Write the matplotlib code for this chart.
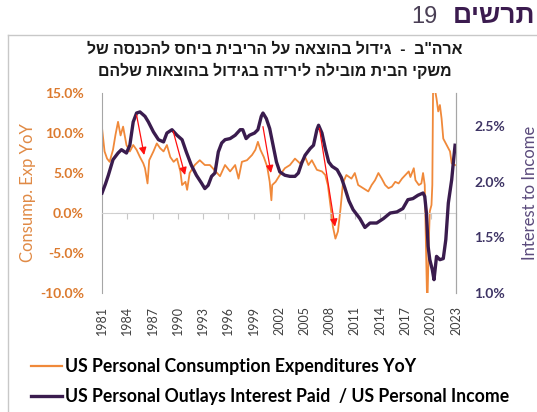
import matplotlib
matplotlib.use("Agg")
import matplotlib.pyplot as plt
from matplotlib.lines import Line2D
from matplotlib.ticker import FuncFormatter

# consumption expenditures YoY (%), left axis
pce_years = [1981.0, 1981.3, 1981.6, 1981.9, 1982.3, 1982.6, 1982.9, 1983.2, 1983.5, 1983.9,
             1984.3, 1984.7, 1985.1, 1985.5, 1985.9, 1986.1, 1986.4, 1986.6, 1987.1, 1987.5,
             1987.9, 1988.3, 1988.7, 1989.1, 1989.5, 1989.9, 1990.3, 1990.5, 1990.9, 1991.1,
             1991.4, 1992.0, 1992.6, 1993.2, 1993.8, 1994.4, 1995.0, 1995.6, 1996.2, 1996.8,
             1997.2, 1997.6, 1998.2, 1998.8, 1999.2, 1999.5, 1999.8, 2000.2, 2000.6, 2000.9,
             2001.1, 2001.2, 2001.6, 2002.1, 2002.7, 2003.3, 2003.9, 2004.5, 2005.1, 2005.5,
             2005.9, 2006.5, 2007.1, 2007.5, 2007.8, 2008.2, 2008.4, 2008.7, 2009.0, 2009.3,
             2009.6, 2010.0, 2010.6, 2011.0, 2011.4, 2012.0, 2012.6, 2013.0, 2013.4, 2013.8,
             2014.2, 2014.6, 2015.0, 2015.4, 2015.8, 2016.2, 2016.6, 2017.0, 2017.4, 2017.6,
             2018.0, 2018.2, 2018.6, 2018.9, 2019.1, 2019.3, 2019.5, 2019.6, 2019.8, 2019.9,
             2020.1, 2020.2, 2020.3, 2020.5, 2020.7, 2020.9, 2021.1, 2021.3, 2021.5, 2021.9,
             2022.3, 2022.5, 2022.9]
pce_yoy = [10.6, 7.7, 6.8, 6.4, 7.9, 9.8, 11.4, 9.7, 10.8, 8.5,
           7.7, 8.5, 7.9, 7.0, 6.2, 5.6, 3.7, 6.6, 7.7, 8.7,
           8.1, 7.7, 8.5, 7.0, 6.4, 6.8, 5.2, 3.5, 3.9, 2.9,
           5.0, 6.0, 6.6, 6.0, 6.0, 5.3, 4.6, 6.0, 5.2, 6.0,
           4.3, 6.4, 6.6, 7.25, 7.9, 8.9, 7.9, 7.0, 5.8, 3.9,
           1.6, 3.5, 3.9, 4.75, 5.6, 6.0, 6.8, 6.2, 7.0, 6.0,
           6.6, 5.4, 5.2, 4.75, 3.5, 0.2, -1.7, -3.2, -2.3, 0.5,
           3.8, 4.75, 4.3, 5.0, 3.5, 3.1, 2.7, 3.5, 4.1, 5.0,
           4.3, 3.5, 3.1, 3.3, 3.9, 3.7, 4.3, 4.75, 5.2, 4.5,
           5.6, 4.1, 3.5, 3.7, 5.0, 3.5, -6.9, -12.0, -3.0, 0.2,
           1.0, 3.5, 17.0, 15.5, 14.3, 12.7, 13.5, 11.8, 9.3, 8.5,
           7.7, 6.2, 6.0]

# interest paid / personal income (%), right axis
int_years = [1981.0, 1981.4, 1981.75, 1982.3, 1982.9, 1983.3, 1983.9, 1984.3, 1984.7, 1985.1,
             1985.5, 1986.1, 1986.5, 1987.1, 1987.7, 1988.3, 1988.7, 1989.3, 1989.9, 1990.5,
             1991.0, 1991.6, 1992.2, 1992.8, 1993.2, 1993.6, 1994.0, 1994.4, 1994.8, 1995.2,
             1995.6, 1996.2, 1996.8, 1997.4, 1997.7, 1998.1, 1998.5, 1999.1, 1999.5, 1999.9,
             2000.1, 2000.5, 2000.9, 2001.3, 2001.7, 2002.1, 2002.7, 2003.3, 2003.9, 2004.3,
             2004.7, 2005.1, 2005.7, 2006.1, 2006.5, 2006.7, 2007.1, 2007.5, 2007.9, 2008.3,
             2008.9, 2009.4, 2009.8, 2010.3, 2010.8, 2011.6, 2012.2, 2012.8, 2013.6, 2014.4,
             2015.2, 2016.0, 2016.7, 2017.3, 2017.9, 2018.5, 2019.1, 2019.3, 2019.5, 2019.7,
             2019.9, 2020.2, 2020.4, 2020.7, 2021.1, 2021.5, 2021.8, 2022.1, 2022.5, 2022.7,
             2022.9]
int_ratio = [1.90, 1.98, 2.06, 2.20, 2.26, 2.29, 2.26, 2.33, 2.54, 2.62,
             2.63, 2.59, 2.54, 2.45, 2.38, 2.36, 2.44, 2.47, 2.42, 2.38,
             2.27, 2.15, 2.06, 1.99, 1.94, 1.97, 2.05, 2.08, 2.27, 2.35,
             2.38, 2.39, 2.42, 2.47, 2.47, 2.39, 2.42, 2.44, 2.47, 2.59,
             2.62, 2.57, 2.48, 2.33, 2.18, 2.09, 2.06, 2.05, 2.05, 2.08,
             2.17, 2.24, 2.30, 2.33, 2.47, 2.51, 2.44, 2.30, 2.18, 2.14,
             2.11, 2.04, 1.95, 1.83, 1.75, 1.67, 1.59, 1.63, 1.63, 1.67,
             1.72, 1.73, 1.76, 1.84, 1.85, 1.88, 1.90, 1.87, 1.72, 1.42,
             1.30, 1.21, 1.12, 1.33, 1.30, 1.31, 1.48, 1.81, 2.02, 2.18,
             2.33]

# red arrows: (year, yoy) start -> end, in left-axis units
arrow_from = [(1985.1, 12.25), (1989.45, 10.2), (2000.1, 10.8), (2006.8, 10.6)]
arrow_to = [(1986.0, 7.25), (1990.85, 4.75), (2001.05, 5.0), (2008.65, -1.7)]

year_ticks = list(range(1981, 2024, 3))
left_ticks = [-10, -5, 0, 5, 10, 15]
right_ticks = [1.0, 1.5, 2.0, 2.5]

title_1 = 'ארה"ב  -  גידול בהוצאה על הריבית ביחס להכנסה של'
title_2 = "משקי הבית מובילה לירידה בגידול בהוצאות שלהם"
header_word = "תרשים"
header_num = "19"
label_pce = "US Personal Consumption Expenditures YoY"
label_int = "US Personal Outlays Interest Paid  / US Personal Income"

ORANGE = "#F0893A"
PURPLE = "#3A1C4E"
GREY = "#A6A6A6"
HEB = ["Liberation Sans", "DejaVu Sans"]
LAT = ["Lato", "DejaVu Sans"]


def visual(s):
    # matplotlib has no bidi support: feed hebrew in visual order
    return s[::-1]


fig = plt.figure(figsize=(5.37, 4.12), dpi=100)
ax = fig.add_axes([0.190, 0.2888, 0.659, 0.4854])
ax2 = ax.twinx()

ax.plot(pce_years, pce_yoy, color=ORANGE, lw=1.3, label=label_pce)
ax2.plot(int_years, int_ratio, color=PURPLE, lw=2.4, label=label_int)

for (x0, y0), (x1, y1) in zip(arrow_from, arrow_to):
    ax2.annotate("", xy=(x1, y1), xytext=(x0, y0), xycoords=ax.transData,
                 textcoords=ax.transData,
                 arrowprops=dict(arrowstyle="-|>", color="#FF1010", lw=0.9,
                                 mutation_scale=11, shrinkA=0, shrinkB=0))

ax.set_xlim(1981, 2023)
ax.set_ylim(-10, 15)
ax2.set_ylim(1.0, 2.8)

ax.set_yticks(left_ticks)
ax2.set_yticks(right_ticks)
ax.yaxis.set_major_formatter(FuncFormatter(lambda v, p: f"{v:.1f}%"))
ax2.yaxis.set_major_formatter(FuncFormatter(lambda v, p: f"{v:.1f}%"))

for a in (ax, ax2):
    a.spines["top"].set_visible(False)
    a.spines["left"].set_color(GREY)
    a.spines["right"].set_color(GREY)
    a.spines["bottom"].set_visible(False)
ax2.spines["left"].set_visible(False)

# category axis crosses at 0%
ax.spines["bottom"].set_visible(True)
ax.spines["bottom"].set_position(("data", 0))
ax.spines["bottom"].set_color("#D0D0D0")
ax.set_xticks(year_ticks)
ax.tick_params(axis="x", direction="out", length=4, color="#C8C8C8",
               labelbottom=False)
sec = ax.secondary_xaxis(0.0)
sec.set_xticks(year_ticks)
sec.set_xticklabels([str(y) for y in year_ticks], rotation=90,
                    fontsize=9, color="#404040", family=LAT)
sec.spines["bottom"].set_visible(False)
sec.tick_params(length=0, pad=9)

ax.tick_params(axis="y", length=0, pad=13, labelsize=10, labelcolor="#DC7A2E")
ax2.tick_params(axis="y", length=0, pad=13, labelsize=10, labelcolor="#3E3465")
for t in ax.get_yticklabels() + ax2.get_yticklabels():
    t.set_fontweight("bold")
    t.set_family(LAT)

ax.set_ylabel("Consump. Exp YoY", color="#E08A45", fontsize=12, family=LAT,
              labelpad=3)
ax2.set_ylabel("Interest to Income", color="#5B4B7C", fontsize=12, family=LAT,
               labelpad=12)

# legend under the plot
handles = [Line2D([], [], color=ORANGE, lw=1.6), Line2D([], [], color=PURPLE, lw=2.4)]
fig.legend(handles, [label_pce, label_int], loc="upper left",
           bbox_to_anchor=(0.058, 1 - 358 / 412), frameon=False,
           prop=dict(family=LAT, weight="bold", size=12.7),
           handlelength=1.75, handletextpad=0.15, labelspacing=0.72,
           borderaxespad=0, borderpad=0)

# titles
fig.text(0.512, 1 - 49 / 412, visual(title_1), ha="center", va="center",
         fontsize=11.4, fontweight="bold", family=HEB, color="#1A1A1A")
fig.text(0.512, 1 - 71 / 412, visual(title_2), ha="center", va="center",
         fontsize=11.4, fontweight="bold", family=HEB, color="#1A1A1A")
fig.text(0.997, 1 - 23 / 412, visual(header_word), ha="right", va="baseline",
         fontsize=19, fontweight="bold", family=HEB, color="#3B1B4F")
fig.text(0.815, 1 - 23 / 412, header_num, ha="right", va="baseline",
         fontsize=17, family=HEB, color="#4A3F55")

# frame of the chart box
fig.add_artist(Line2D([8 / 537, 1.0], [1 - 35 / 412] * 2, transform=fig.transFigure,
                      color="#C8C8C8", lw=1))
fig.add_artist(Line2D([8 / 537] * 2, [0, 1 - 35 / 412], transform=fig.transFigure,
                      color="#C8C8C8", lw=1))

fig.savefig("out.png", dpi=100)
